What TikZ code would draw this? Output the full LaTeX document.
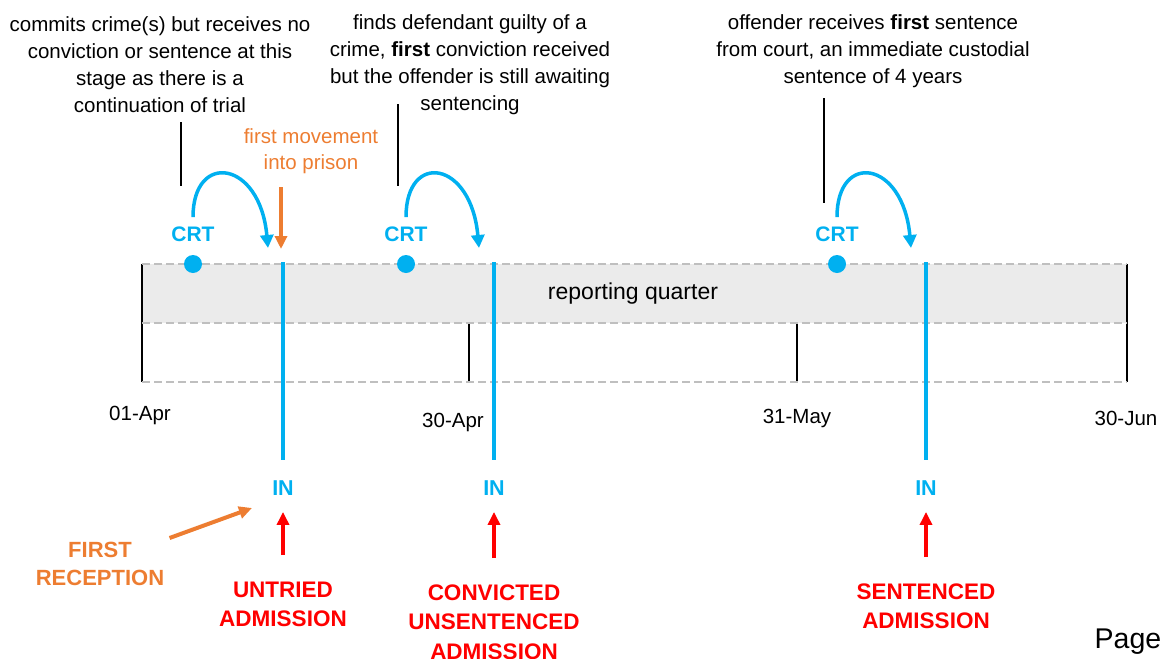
\documentclass[tikz,border=0pt]{standalone}
\usepackage{fontspec}
\setmainfont{Liberation Sans}
\usetikzlibrary{arrows.meta}
\definecolor{crtblue}{RGB}{0,176,240}
\definecolor{moveorange}{RGB}{237,125,49}
\definecolor{admitred}{RGB}{255,0,0}
\definecolor{bandgray}{RGB}{235,235,235}
\definecolor{dashgray}{RGB}{191,191,191}
\tikzstyle{note}=[align=center, inner sep=3pt, font=\fontsize{20.5}{27}\selectfont]
\tikzstyle{date}=[inner sep=3pt, font=\fontsize{20.5}{25}\selectfont]
\tikzstyle{crtdot}=[circle, fill=crtblue, inner sep=0pt, minimum size=18pt]
\tikzstyle{crtlabel}=[text=crtblue, font=\fontsize{21}{25}\selectfont\bfseries]
\tikzstyle{inlabel}=[text=crtblue, font=\fontsize{21.5}{25}\selectfont\bfseries]
\tikzstyle{admit}=[text=admitred, align=center, anchor=north, font=\fontsize{22.5}{29.5}\selectfont\bfseries]
\tikzstyle{move}=[text=moveorange, align=center, font=\fontsize{20.5}{26}\selectfont]
\tikzstyle{reception}=[text=moveorange, align=center, font=\fontsize{22}{28}\selectfont\bfseries]
\tikzstyle{stayline}=[crtblue, line width=4pt]
\tikzstyle{crtarrow}=[crtblue, line width=3.5pt, -{Triangle[length=13pt,width=13pt]}]
\tikzstyle{admitarrow}=[admitred, line width=4pt, -{Triangle[length=13pt,width=12pt]}]
\tikzstyle{movearrow}=[moveorange, line width=4pt, -{Triangle[length=13pt,width=12pt]}]
\tikzstyle{leader}=[black, line width=1.5pt]
\tikzstyle{tick}=[black, line width=2pt]
\tikzstyle{gridline}=[dashgray, line width=1.5pt, dash pattern=on 8pt off 4pt]
\tikzstyle{band}=[fill=bandgray]
\newcommand{\crtdot}{\node[crtdot]}

\begin{document}
\begin{tikzpicture}[x=1pt, y=-1pt]
\useasboundingbox (0,0) rectangle (1163,659);
%quarter
\fill[band] (142,264) rectangle (1127,323);
\node[date, font=\fontsize{23}{27}\selectfont] (quarter) at (633,294) {reporting quarter};
\foreach \x in {142,1127}{
	\draw[tick] (\x,264) -- (\x,382);}
\foreach \x in {469,797}{
	\draw[tick] (\x,323) -- (\x,382);}
\foreach \y in {264,323,382}{
	\draw[gridline] (142,\y) -- (1127,\y);}
%dates
\node[date] (apr01) at (140,415) {01-Apr};
\node[date] (apr30) at (453,422) {30-Apr};
\node[date] (may31) at (797,418) {31-May};
\node[date] (jun30) at (1126,418) {30-Jun};
%notes
\node[note] (n1) at (160,64.5) {commits crime(s) but receives no\\conviction or sentence at this\\stage as there is a\\continuation of trial};
\node[note] (n2) at (470,64.5) {finds defendant guilty of a\\crime, \textbf{first} conviction received\\but the offender is still awaiting\\sentencing};
\node[note] (n3) at (873,51.5) {offender receives \textbf{first} sentence\\from court, an immediate custodial\\sentence of 4 years};
\foreach \i/\x/\a/\b in {1/181/122/186, 2/398/104/186, 3/824/98/203}{
	\coordinate (lt\i) at (\x,\a);
	\coordinate (lb\i) at (\x,\b);
	\draw[leader] (lt\i) -- (lb\i);}
%events
\foreach \n/\d/\l in {1/193/283, 2/406/494, 3/837/926}{
	\node[inlabel] (in\n) at (\l,488) {IN};
	\coordinate (top\n) at (\l,262);
	\draw[stayline, shorten >=17pt] (top\n) -- (in\n.north);
	\crtdot (dot\n) at (\d,264) {};
	\node[crtlabel] (crt\n) at (\d,234) {CRT};
	\coordinate (hook\n) at (\l-15,248);
	\draw[crtarrow] ([yshift=6pt]crt\n.north) .. controls +(0,-66) and +(-8,-88) .. (hook\n);}
%admissions
\node[admit] (adm1) at (283,578) {UNTRIED\\ADMISSION};
\node[admit] (adm2) at (494,581) {CONVICTED\\UNSENTENCED\\ADMISSION};
\node[admit] (adm3) at (926,580) {SENTENCED\\ADMISSION};
\foreach \n in {1,2,3}{
	\draw[admitarrow, shorten <=23pt, shorten >=13pt] (adm\n.north) -- (in\n.south);}
%first reception
\node[move] (fm) at (311,151) {first movement\\into prison};
\coordinate (fmend) at (281,249);
\draw[movearrow, shorten <=10pt] (fm.south -| fmend) -- (fmend);
\node[reception] (fr) at (100,564) {FIRST\\RECEPTION};
\coordinate (frend) at (252,508);
\draw[movearrow, shorten <=2pt] (fr.north east) -- (frend);
%page
\node[inner sep=0pt, font=\fontsize{28.5}{32}\selectfont] (pg) at (1128,642) {Page};
\end{tikzpicture}
\end{document}
